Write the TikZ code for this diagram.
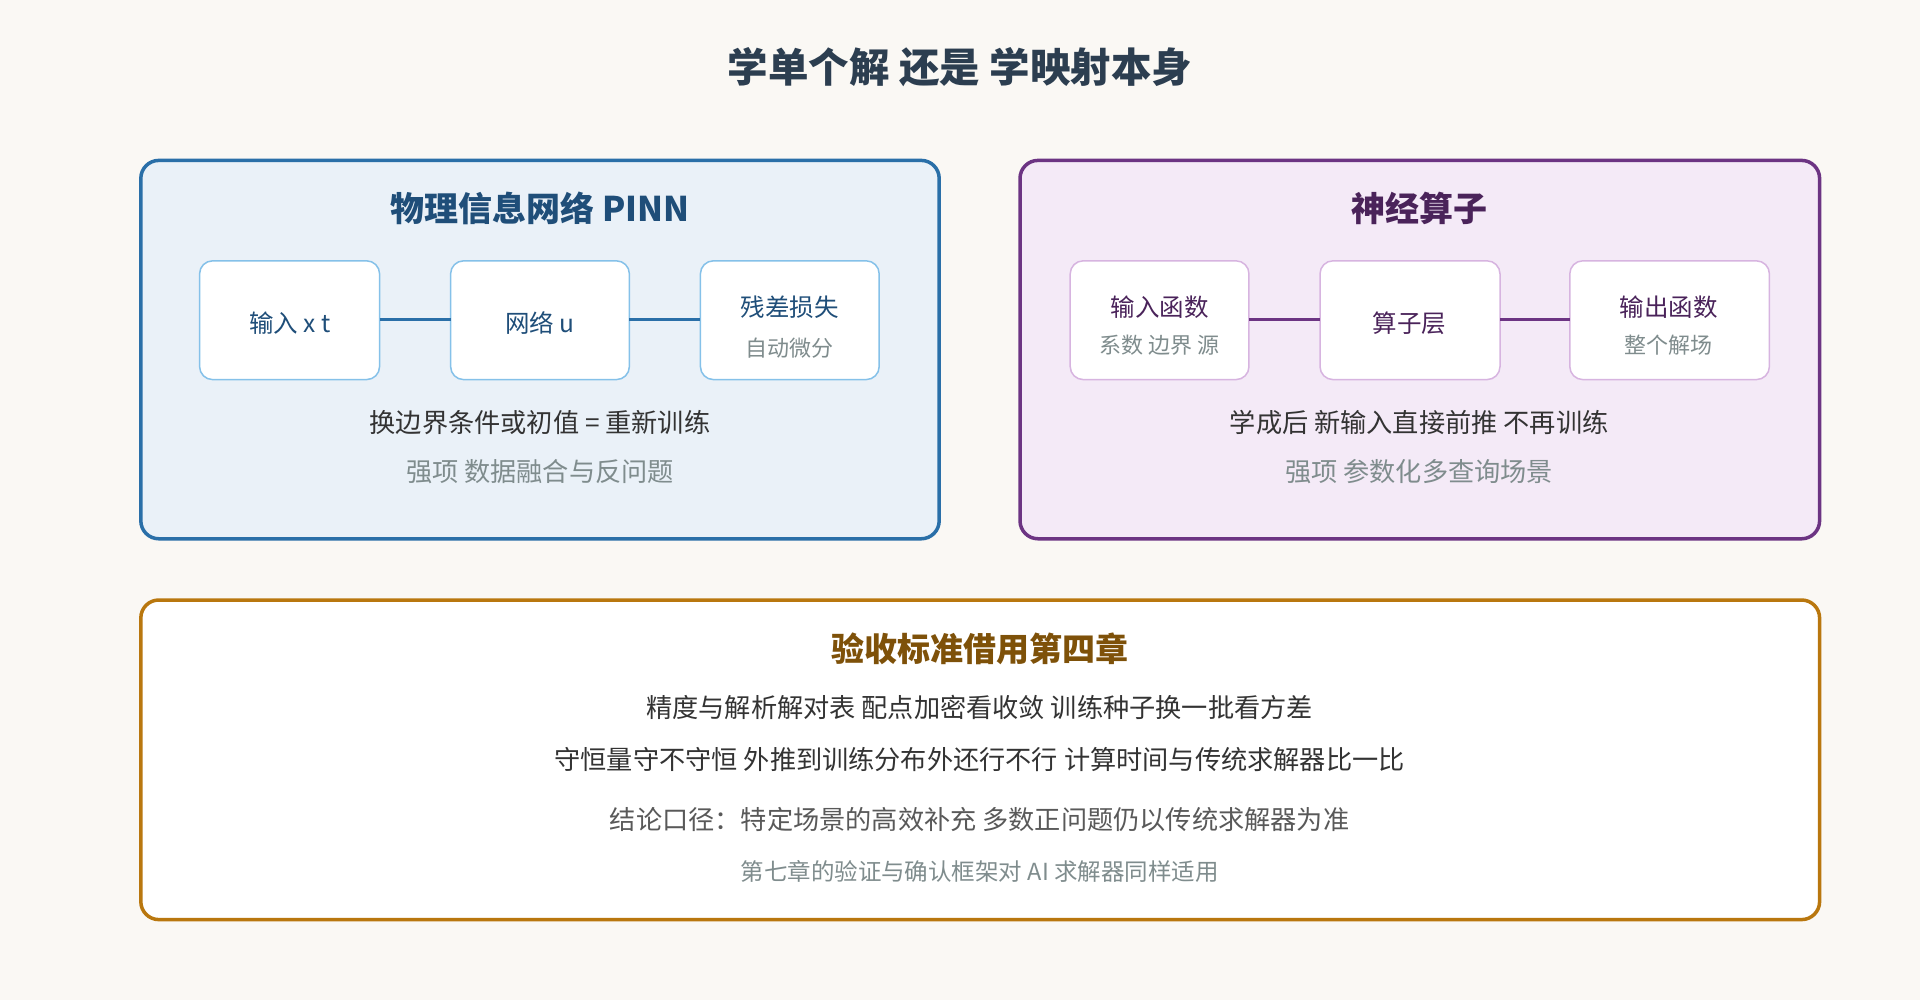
\documentclass[tikz,border=0pt]{standalone}
\usepackage{fontspec}
\setmainfont{Noto Sans CJK SC}
\definecolor{bg}{HTML}{FAF8F4}
\definecolor{bluedk}{HTML}{2A6FA8}
\definecolor{bluet}{HTML}{1F4E79}
\definecolor{bluefill}{HTML}{EAF1F8}
\definecolor{bluebox}{HTML}{85C1E9}
\definecolor{purp}{HTML}{6C3483}
\definecolor{purpt}{HTML}{4A235A}
\definecolor{purpfill}{HTML}{F4EAF7}
\definecolor{purpbox}{HTML}{D7B4E0}
\definecolor{gold}{HTML}{B9770E}
\definecolor{goldt}{HTML}{7E5109}
\definecolor{txt}{HTML}{333333}
\definecolor{mute}{HTML}{7F8C8D}
\definecolor{ttl}{HTML}{2C3E50}
\newcommand{\fsz}[1]{\fontsize{#1}{#1}\selectfont}
\begin{document}
\begin{tikzpicture}[x=1.2245pt,y=-1.2245pt,
 panel/.style={rounded corners=18pt,line width=3.5pt},
 box/.style={rounded corners=13pt,line width=1.5pt,fill=white},
 lbl/.style={inner sep=0pt,anchor=center},
 btxt/.style={lbl,text=bluet,font=\fsz{24.5}},
 ptxt/.style={lbl,text=purpt,font=\fsz{24.5}},
 stxt/.style={lbl,text=mute,font=\fsz{22}},
 line/.style={lbl,text=txt,font=\fsz{26.2}},
 mline/.style={lbl,text=mute,font=\fsz{26.2}}]
\fill[bg] (0,0) rectangle (1568,817);
\useasboundingbox (0,0) rectangle (1568,817);
\node[lbl,text=ttl,font=\bfseries\fsz{40.5}] (title) at (784,55) {学单个解 还是 学映射本身};
% left
\draw[panel,draw=bluedk,fill=bluefill] (115,131) rectangle (767,440);
\node[lbl,text=bluet,font=\bfseries\fsz{34}] (lt) at (441,170) {物理信息网络 PINN};
\draw[box,draw=bluebox] (163,213) rectangle (310,310);
\draw[box,draw=bluebox] (368,213) rectangle (514,310);
\draw[box,draw=bluebox] (572,213) rectangle (718,310);
\coordinate (l1a) at (310,261); \coordinate (l1b) at (368,261);
\coordinate (l2a) at (514,261); \coordinate (l2b) at (572,261);
\draw[bluedk,line width=3pt] (l1a)--(l1b) (l2a)--(l2b);
\node[btxt] (n1) at (237,264) {输入 x t};
\node[btxt] (n2) at (441,264) {网络 u};
\node[btxt] (n3) at (645,251) {残差损失};
\node[stxt] (n3s) at (645,284) {自动微分};
\node[line] (lm) at (441,345) {换边界条件或初值 = 重新训练};
\node[mline] (ls) at (441,385) {强项 数据融合与反问题};
% right
\draw[panel,draw=purp,fill=purpfill] (833,131) rectangle (1486,440);
\node[lbl,text=purpt,font=\bfseries\fsz{34}] (rt) at (1159,170) {神经算子};
\draw[box,draw=purpbox] (874,213) rectangle (1020,310);
\draw[box,draw=purpbox] (1078,213) rectangle (1225,310);
\draw[box,draw=purpbox] (1282,213) rectangle (1445,310);
\coordinate (r1a) at (1020,261); \coordinate (r1b) at (1078,261);
\coordinate (r2a) at (1225,261); \coordinate (r2b) at (1282,261);
\draw[purp,line width=3pt] (r1a)--(r1b) (r2a)--(r2b);
\node[ptxt] (m1) at (947,251) {输入函数};
\node[stxt] (m1s) at (947,282) {系数 边界 源};
\node[ptxt] (m2) at (1151,264) {算子层};
\node[ptxt] (m3) at (1363,251) {输出函数};
\node[stxt] (m3s) at (1363,282) {整个解场};
\node[line] (rm) at (1159,345) {学成后 新输入直接前推 不再训练};
\node[mline] (rs) at (1159,385) {强项 参数化多查询场景};
% bottom
\draw[panel,draw=gold,fill=white] (115,490) rectangle (1486,751);
\node[lbl,text=goldt,font=\bfseries\fsz{33}] (bt) at (800,530) {验收标准借用第四章};
\node[line] (b1t) at (800,578) {精度与解析解对表 配点加密看收敛 训练种子换一批看方差};
\node[line] (b2t) at (800,620) {守恒量守不守恒 外推到训练分布外还行不行 计算时间与传统求解器比一比};
\node[lbl,text=black!65,font=\fsz{26.2}] (b3t) at (800,669) {结论口径：特定场景的高效补充 多数正问题仍以传统求解器为准};
\node[lbl,text=mute,font=\fsz{23.5}] (b4t) at (800,712) {第七章的验证与确认框架对 AI 求解器同样适用};
\end{tikzpicture}
\end{document}
